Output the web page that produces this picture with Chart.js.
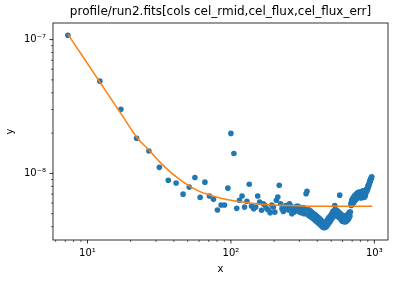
<!DOCTYPE html>
<html>
<head>
<meta charset="utf-8">
<script src="https://cdn.jsdelivr.net/npm/chart.js@4/dist/chart.umd.min.js"></script>
<style>
  body { margin: 0; background: #fff; }
  canvas { display: block; }
</style>
</head>
<body>
<canvas id="chart" width="394" height="282"></canvas>
<script>
const titleText = 'profile/run2.fits[cols cel_rmid,cel_flux,cel_flux_err]'

// profile points (cel_rmid, cel_flux)
const rmid = [
  7.3, 12.2, 17.1, 22.0, 26.8, 31.7, 36.6, 41.5, 46.4, 51.2,
  56.1, 61.0, 65.9, 70.8, 75.6, 80.5, 85.4, 90.3, 95.2, 100.0,
  104.9, 109.8, 114.7, 119.6, 124.5, 129.3, 134.2, 139.1, 144.0, 148.9,
  153.7, 158.6, 163.5, 168.4, 173.3, 178.1, 183.0, 187.9, 192.8, 197.7,
  202.5, 207.4, 212.3, 217.2, 222.1, 226.9, 231.8, 236.7, 241.6, 246.5,
  251.3, 256.2, 261.1, 266.0, 270.9, 275.7, 280.6, 285.5, 290.4, 295.3,
  300.1, 305.0, 309.9, 314.8, 319.7, 324.5, 329.4, 334.3, 339.2, 344.1,
  348.9, 353.8, 358.7, 363.6, 368.5, 373.3, 378.2, 383.1, 388.0, 392.9,
  397.7, 402.6, 407.5, 412.4, 417.3, 422.1, 427.0, 431.9, 436.8, 441.7,
  446.5, 451.4, 456.3, 461.2, 466.1, 470.9, 475.8, 480.7, 485.6, 490.5,
  495.3, 500.2, 505.1, 510.0, 514.9, 519.7, 524.6, 529.5, 534.4, 539.3,
  544.1, 549.0, 553.9, 558.8, 563.7, 568.5, 573.4, 578.3, 583.2, 588.1,
  592.9, 597.8, 602.7, 607.6, 612.5, 617.3, 622.2, 627.1, 632.0, 636.9,
  641.7, 646.6, 651.5, 656.4, 661.3, 666.1, 671.0, 675.9, 680.8, 685.7,
  690.5, 695.4, 700.3, 705.2, 710.1, 714.9, 719.8, 724.7, 729.6, 734.5,
  739.3, 744.2, 749.1, 754.0, 758.9, 763.7, 768.6, 773.5, 778.4, 783.3,
  788.1, 793.0, 797.9, 802.8, 807.7, 812.5, 817.4, 822.3, 827.2, 832.1,
  836.9, 841.8, 846.7, 851.6, 856.5, 861.3, 866.2, 871.1, 876.0, 880.9,
  885.7, 890.6, 895.5, 900.4, 905.3, 910.1, 915.0, 919.9, 924.8, 929.7,
  934.5, 939.4, 944.3, 949.2, 954.1, 958.9
]
const flux = [
  1.076e-7, 4.89e-8, 3.01e-8, 1.83e-8, 1.47e-8, 1.11e-8, 8.9e-9, 8.47e-9, 7.0e-9, 7.9e-9,
  9.33e-9, 6.62e-9, 8.6e-9, 6.78e-9, 6.4e-9, 5.32e-9, 5.8e-9, 5.8e-9, 7.76e-9, 1.99e-8,
  1.41e-8, 5.48e-9, 6.3e-9, 6.78e-9, 5.6e-9, 6.2e-9, 8.3e-9, 5.7e-9, 5.45e-9, 5.6e-9,
  6.78e-9, 6.1e-9, 5.3e-9, 5.93e-9, 5.75e-9, 5.45e-9, 5.3e-9, 5.09e-9, 5.8e-9, 5.6e-9,
  5.14e-9, 6.3e-9, 6.65e-9, 8.15e-9, 5.93e-9, 5.45e-9, 5.2e-9, 5.38e-9, 5.75e-9, 5.6e-9,
  5.32e-9, 5.93e-9, 5.7e-9, 5.0e-9, 5.38e-9, 5.14e-9, 5.6e-9, 5.32e-9, 5.7e-9, 5.22e-9,
  5.6e-9, 5.1e-9, 5.5e-9, 5.05e-9, 5.55e-9, 5.0e-9, 5.4e-9, 7.05e-9, 7.35e-9, 4.9e-9,
  5.35e-9, 4.8e-9, 5.25e-9, 4.7e-9, 5.1e-9, 4.6e-9, 5.0e-9, 4.5e-9, 4.9e-9, 4.4e-9,
  4.78e-9, 4.3e-9, 4.68e-9, 4.2e-9, 4.58e-9, 4.12e-9, 4.45e-9, 4.02e-9, 4.35e-9, 3.95e-9,
  4.3e-9, 3.93e-9, 4.32e-9, 3.98e-9, 4.42e-9, 4.1e-9, 4.6e-9, 4.25e-9, 4.72e-9, 4.35e-9,
  4.85e-9, 4.5e-9, 5.02e-9, 4.65e-9, 5.2e-9, 4.78e-9, 5.28e-9, 5.75e-9, 4.88e-9, 5.35e-9,
  4.85e-9, 5.28e-9, 4.78e-9, 5.18e-9, 4.7e-9, 5.1e-9, 6.88e-9, 4.62e-9, 5.0e-9, 4.5e-9,
  4.88e-9, 4.4e-9, 4.82e-9, 4.38e-9, 4.8e-9, 4.35e-9, 4.78e-9, 4.35e-9, 4.78e-9, 4.37e-9,
  4.84e-9, 4.45e-9, 4.92e-9, 4.53e-9, 5.02e-9, 4.65e-9, 5.15e-9, 4.8e-9, 5.14e-9, 5.95e-9,
  5.75e-9, 6.3e-9, 5.9e-9, 6.45e-9, 6.0e-9, 6.6e-9, 6.1e-9, 6.75e-9, 6.25e-9, 6.85e-9,
  6.35e-9, 6.95e-9, 6.45e-9, 7.05e-9, 6.55e-9, 7.15e-9, 6.65e-9, 7.2e-9, 6.7e-9, 7.25e-9,
  6.8e-9, 7.2e-9, 6.6e-9, 6.8e-9, 6.55e-9, 6.85e-9, 6.8e-9, 7.35e-9, 6.95e-9, 7.4e-9,
  6.95e-9, 7.1e-9, 6.6e-9, 6.85e-9, 6.7e-9, 6.95e-9, 6.85e-9, 7.4e-9, 7.2e-9, 7.6e-9,
  7.35e-9, 7.7e-9, 7.6e-9, 8.0e-9, 7.85e-9, 8.15e-9, 8.1e-9, 8.45e-9, 8.4e-9, 8.75e-9,
  8.7e-9, 9.0e-9, 9.0e-9, 9.25e-9, 9.2e-9, 9.45e-9
]

// fitted model curve
const fitX = [7.31, 9.45, 12.22, 17.12, 22.13, 27.27, 32.0, 37.57, 44.12, 51.8,
  60.8, 71.4, 83.8, 98.4, 115.5, 135.6, 159.3, 219.5, 302.6, 489.7, 968]
const fitY = [1.095e-7, 7.25e-8, 4.80e-8, 2.794e-8, 1.856e-8, 1.467e-8, 1.214e-8, 1.031e-8, 8.99e-9, 8.0e-9,
  7.31e-9, 6.89e-9, 6.54e-9, 6.32e-9, 6.14e-9, 6.0e-9, 5.88e-9, 5.77e-9, 5.72e-9, 5.68e-9, 5.68e-9]

const xTicks = [6, 7, 8, 9, 10, 20, 30, 40, 50, 60, 70, 80, 90, 100,
  200, 300, 400, 500, 600, 700, 800, 900, 1000]
const yTicks = [4e-9, 5e-9, 6e-9, 7e-9, 8e-9, 9e-9, 1e-8,
  2e-8, 3e-8, 4e-8, 5e-8, 6e-8, 7e-8, 8e-8, 9e-8, 1e-7]

const sup = {'-': '\u207B', '0': '\u2070', '1': '\u00B9', '2': '\u00B2', '3': '\u00B3',
  '4': '\u2074', '5': '\u2075', '6': '\u2076', '7': '\u2077', '8': '\u2078', '9': '\u2079'}

function decade(v) {
  const e = Math.log10(v)
  return Math.abs(e - Math.round(e)) < 1e-6 ? Math.round(e) : null
}
function powLabel(v) {
  const e = decade(v)
  if (e === null) return ''
  return '10' + String(e).split('').map(c => sup[c]).join('')
}

// matplotlib-like box, outward tick marks and title over the axes
const frame = {
  id: 'frame',
  afterDraw(chart) {
    const {ctx, chartArea: a, scales} = chart
    ctx.save()
    ctx.strokeStyle = '#000'
    ctx.lineWidth = 0.8
    ctx.strokeRect(a.left, a.top, a.right - a.left, a.bottom - a.top)
    scales.x.ticks.forEach(t => {
      const p = scales.x.getPixelForValue(t.value)
      const minor = decade(t.value) === null
      ctx.lineWidth = minor ? 0.6 : 0.8
      ctx.beginPath()
      ctx.moveTo(p, a.bottom)
      ctx.lineTo(p, a.bottom + (minor ? 2 : 3.5))
      ctx.stroke()
    })
    scales.y.ticks.forEach(t => {
      const p = scales.y.getPixelForValue(t.value)
      const minor = decade(t.value) === null
      ctx.lineWidth = minor ? 0.6 : 0.8
      ctx.beginPath()
      ctx.moveTo(a.left, p)
      ctx.lineTo(a.left - (minor ? 2 : 3.5), p)
      ctx.stroke()
    })
    ctx.fillStyle = '#000'
    ctx.font = '12px "DejaVu Sans"'
    ctx.textAlign = 'center'
    ctx.textBaseline = 'middle'
    ctx.fillText(titleText, (a.left + a.right) / 2, 12)
    ctx.restore()
  }
}

Chart.defaults.font.family = 'DejaVu Sans'
Chart.defaults.color = '#000'

const chart = new Chart('chart', {
  data: {
    datasets: [
      {
        type: 'line',
        data: fitX.map((x, i) => ({x: x, y: fitY[i]})),
        borderColor: '#ff7f0e',
        borderWidth: 1.5,
        pointRadius: 0,
        cubicInterpolationMode: 'monotone',
        order: 0
      },
      {
        type: 'scatter',
        data: rmid.map((x, i) => ({x: x, y: flux[i]})),
        backgroundColor: '#1f77b4',
        borderWidth: 0,
        pointRadius: 2.8,
        order: 1
      }
    ]
  },
  options: {
    responsive: false,
    animation: false,
    devicePixelRatio: 1,
    layout: {padding: {left: 0, right: 6, top: 23, bottom: 0}},
    plugins: {
      legend: {display: false},
      tooltip: {enabled: false},
      title: {display: false}
    },
    scales: {
      x: {
        type: 'logarithmic',
        position: 'bottom',
        min: 5.75,
        max: 1245,
        grid: {display: false, drawTicks: false},
        border: {display: false},
        afterBuildTicks: s => { s.ticks = xTicks.map(v => ({value: v})) },
        afterFit: s => { s.height = 42 },
        ticks: {
          autoSkip: false,
          maxRotation: 0,
          padding: 7,
          font: {size: 10},
          callback: v => powLabel(v)
        },
        title: {display: true, text: 'x', font: {size: 10}, padding: {bottom: 7}}
      },
      y: {
        type: 'logarithmic',
        position: 'left',
        min: 3.18e-9,
        max: 1.33e-7,
        grid: {display: false, drawTicks: false},
        border: {display: false},
        afterBuildTicks: s => { s.ticks = yTicks.map(v => ({value: v})) },
        afterFit: s => { s.width = 53 },
        ticks: {
          autoSkip: false,
          padding: 7,
          font: {size: 10},
          callback: v => powLabel(v)
        },
        title: {display: true, text: 'y', font: {size: 10}, padding: {top: 4}}
      }
    }
  },
  plugins: [frame]
})
</script>
</body>
</html>
